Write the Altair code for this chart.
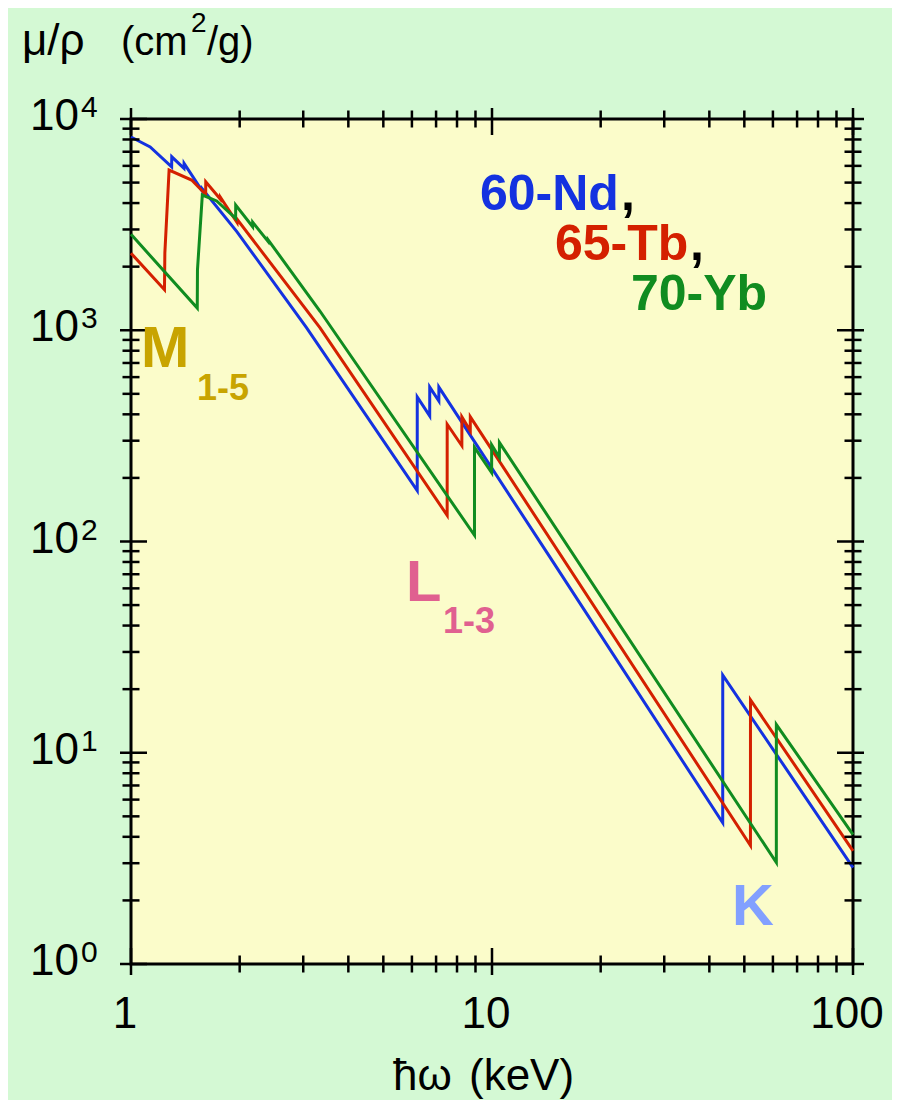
import altair as alt
import pandas as pd

# ---- data (photon energy in keV, mass attenuation in cm^2/g)
nd_E = [1.0, 1.13, 1.296, 1.297, 1.402, 1.403, 1.574, 1.575, 1.964, 3.066,
        6.207, 6.208, 6.721, 6.722, 7.125, 7.126, 14.47, 43.56, 43.57, 100.0]
nd_mu = [8222, 7379, 5943, 6622, 5834, 6166, 4571, 4677, 2931, 1026,
         174, 483, 393, 538, 462, 538, 84.3, 4.66, 23.3, 2.86]

tb_E = [1.0, 1.238, 1.241, 1.275, 1.472, 1.610, 1.611, 1.767, 1.768, 1.967, 1.968,
        3.34, 7.513, 7.514, 8.251, 8.252, 8.707, 8.708, 51.99, 52.0, 100.0]
tb_mu = [2317, 1556, 2317, 5728, 5140, 4395, 5047, 4178, 4266, 3236, 3350,
         1026, 133, 359, 284, 389, 334, 389, 3.64, 17.8, 3.43]

yb_E = [1.0, 1.526, 1.528, 1.576, 1.727, 1.949, 1.950, 2.172, 2.173, 2.397, 2.398,
        3.34, 8.943, 8.944, 9.977, 9.978, 10.485, 10.486, 61.33, 61.332, 100.0]
yb_mu = [2844, 1274, 1932, 4365, 4093, 3388, 3917, 3090, 3243, 2630, 2679,
         1230, 107, 279, 212, 287, 250, 294, 3.02, 13.6, 4.10]

elements = ["60-Nd", "65-Tb", "70-Yb"]
line_colors = ["#1432e0", "#d42000", "#108c20"]

x_major = [1, 10, 100]
x_minor = [2, 3, 4, 5, 6, 7, 8, 9, 20, 30, 40, 50, 60, 70, 80, 90]
x_labels = ["1", "10", "100"]
y_major = [1, 10, 100, 1000, 10000]
y_minor = [m * d for d in [1, 10, 100, 1000] for m in range(2, 10)]
y_exponents = ["0", "1", "2", "3", "4"]

# ---- build table
rows = []
for name, Es, mus in zip(elements, [nd_E, tb_E, yb_E], [nd_mu, tb_mu, yb_mu]):
    for i, (e, m) in enumerate(zip(Es, mus)):
        rows.append({"element": name, "E": e, "mu": m, "order": i})
df = pd.DataFrame(rows)

W, H = 722, 845
FONT = "Liberation Sans"
xs = alt.Scale(type="log", domain=[1, 100])
ys = alt.Scale(type="log", domain=[1, 10000])

lines = alt.Chart(df).mark_line(strokeWidth=3).encode(
    x=alt.X("E:Q", scale=xs, axis=None),
    y=alt.Y("mu:Q", scale=ys, axis=None),
    color=alt.Color("element:N", scale=alt.Scale(domain=elements, range=line_colors), legend=None),
    detail="element:N",
    order="order:Q",
)


def xrules(vals, y1, y2):
    return alt.Chart(pd.DataFrame({"v": vals})).mark_rule(color="black", strokeWidth=2.5).encode(
        x=alt.X("v:Q", scale=xs, axis=None), y=alt.value(y1), y2=alt.value(y2))


def yrules(vals, x1, x2):
    return alt.Chart(pd.DataFrame({"v": vals})).mark_rule(color="black", strokeWidth=2.5).encode(
        y=alt.Y("v:Q", scale=ys, axis=None), x=alt.value(x1), x2=alt.value(x2))


ticks = [
    xrules(x_major, H - 16, H + 11), xrules(x_minor, H - 8.5, H + 8.5),
    xrules(x_major, -11, 16), xrules(x_minor, -8.5, 8.5),
    yrules(y_major, -11, 16), yrules(y_minor, -8.5, 8.5),
    yrules(y_major, W - 16, W + 11), yrules(y_minor, W - 8.5, W + 8.5),
]

xlab = alt.Chart(pd.DataFrame({"v": x_major, "t": x_labels})).mark_text(
    font=FONT, fontSize=44, color="black", align="center", baseline="alphabetic", dx=-6
).encode(x=alt.X("v:Q", scale=xs, axis=None), y=alt.value(H + 64), text="t:N")

ylab10 = alt.Chart(pd.DataFrame({"v": y_major})).mark_text(
    font=FONT, fontSize=44, color="black", align="right", baseline="alphabetic", dy=11, text="10"
).encode(y=alt.Y("v:Q", scale=ys, axis=None), x=alt.value(-52))

ylabexp = alt.Chart(pd.DataFrame({"v": y_major, "t": y_exponents})).mark_text(
    font=FONT, fontSize=30, color="black", align="left", baseline="alphabetic", dy=-2
).encode(y=alt.Y("v:Q", scale=ys, axis=None), x=alt.value(-50), text="t:N")


def label(text, x, y, size, color, weight="normal", align="left"):
    return alt.Chart(alt.Data(values=[{}])).mark_text(
        text=text, font=FONT, fontSize=size, fontWeight=weight, color=color,
        align=align, baseline="alphabetic"
    ).encode(x=alt.value(x), y=alt.value(y))


texts = [
    # y axis title
    label("μ/ρ", -109, -64, 44, "black"),
    label("(cm", -10, -64, 40, "black"),
    label("2", 60, -87, 28, "black"),
    label("/g)", 76, -64, 40, "black"),
    # x axis title
    label("ħω", 262, 971, 44, "black"),
    label("(keV)", 338, 971, 44, "black"),
    # element labels
    label("60-Nd", 349, 91, 50, line_colors[0], "bold"),
    label(",", 490, 91, 50, "black", "bold"),
    label("65-Tb", 424, 141, 50, line_colors[1], "bold"),
    label(",", 559, 141, 50, "black", "bold"),
    label("70-Yb", 500, 191, 50, line_colors[2], "bold"),
    # edge labels
    label("M", 10, 248, 58, "#c8a400", "bold"),
    label("1-5", 66, 281, 36, "#c8a400", "bold"),
    label("L", 275, 482, 58, "#e06090", "bold"),
    label("1-3", 312, 514, 36, "#e06090", "bold"),
    label("K", 601, 806, 58, "#82a0ff", "bold"),
]

chart = alt.layer(lines, *ticks, xlab, ylab10, ylabexp, *texts).properties(
    width=W, height=H,
    padding={"left": 123, "top": 111, "right": 39, "bottom": 136},
    autosize=alt.AutoSizeParams(type="none"),
    background="#d4f9d4",
).configure_view(fill="#fbfcca", stroke="black", strokeWidth=3)

chart.save("out.html", embed_options={"renderer": "svg", "actions": False})
